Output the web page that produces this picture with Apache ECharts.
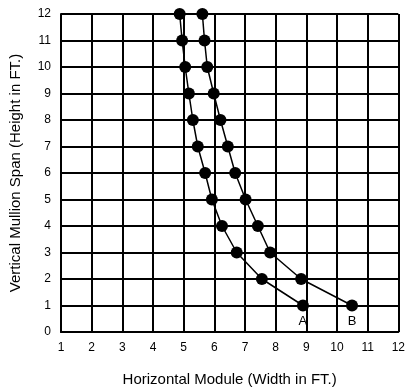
<!DOCTYPE html>
<html><head><meta charset="utf-8">
<script src="https://cdn.jsdelivr.net/npm/echarts@6/dist/echarts.min.js"></script>
<style>html,body{margin:0;padding:0;background:#fff}#c{width:408px;height:392px}</style>
</head><body><div id="c"></div>
<script>
var heights = [1,2,3,4,5,6,7,8,9,10,11,12];
var widthA = [8.89,7.55,6.73,6.25,5.92,5.7,5.46,5.3,5.17,5.05,4.95,4.87];
var widthB = [10.49,8.83,7.82,7.42,7.02,6.68,6.44,6.2,5.98,5.77,5.68,5.61];
var seriesNames = ['A','B'];
var xTicks = [1,2,3,4,5,6,7,8,9,10,11,12];
var yTicks = [0,1,2,3,4,5,6,7,8,9,10,11,12];

var font = 'Liberation Sans';
function pts(ws, name){
  return ws.map(function(w,i){
    var d = {value:[w, heights[i]]};
    if (i === 0) d.label = {show:true, formatter:name, position:'bottom', distance:3, color:'#000', fontSize:13, fontFamily:font};
    return d;
  });
}
var chart = echarts.init(document.getElementById('c'));
chart.setOption({
  animation:false,
  grid:{left:57,right:6,top:14,bottom:60,show:false},
  xAxis:{type:'value',min:xTicks[0],max:xTicks[xTicks.length-1],interval:1,
    name:'Horizontal Module (Width in FT.)',nameLocation:'middle',nameGap:40,
    nameTextStyle:{fontFamily:font,fontSize:15,color:'#000'},
    axisLine:{show:true,lineStyle:{color:'#000',width:2}},axisTick:{show:false},
    axisLabel:{fontFamily:font,fontSize:12,color:'#000',margin:10},
    splitLine:{show:true,lineStyle:{color:'#000',width:2}}},
  yAxis:{type:'value',min:yTicks[0],max:yTicks[yTicks.length-1],interval:1,
    name:'Vertical Mullion Span (Height in FT.)',nameLocation:'middle',nameGap:38,
    nameTextStyle:{fontFamily:font,fontSize:15,color:'#000'},
    axisLine:{show:true,lineStyle:{color:'#000',width:2}},axisTick:{show:false},
    axisLabel:{fontFamily:font,fontSize:12,color:'#000',margin:10},
    splitLine:{show:true,lineStyle:{color:'#000',width:2}}},
  series:[
    {type:'line',name:seriesNames[0],data:pts(widthA,seriesNames[0]),symbol:'circle',symbolSize:12,
     itemStyle:{color:'#000'},lineStyle:{color:'#000',width:1.5},z:5},
    {type:'line',name:seriesNames[1],data:pts(widthB,seriesNames[1]),symbol:'circle',symbolSize:12,
     itemStyle:{color:'#000'},lineStyle:{color:'#000',width:1.5},z:5}
  ]
});
</script></body></html>
